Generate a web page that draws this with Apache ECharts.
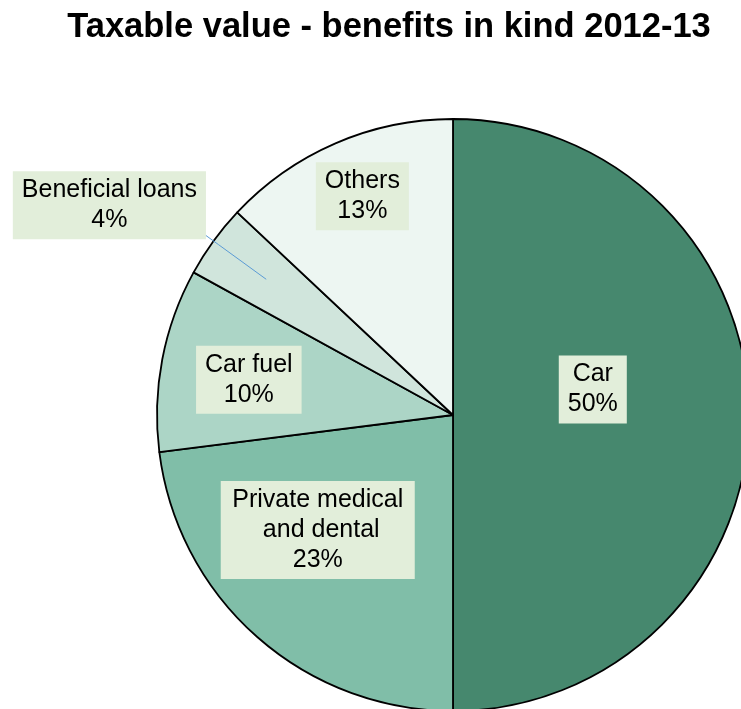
<!DOCTYPE html>
<html>
<head>
<meta charset="utf-8">
<script src="https://cdn.jsdelivr.net/npm/echarts@6/dist/echarts.min.js"></script>
<style>
  html, body { margin: 0; padding: 0; background: #ffffff; }
  #chart { width: 741px; height: 709px; }
</style>
</head>
<body>
<div id="chart"></div>
<script>
// Benefits in kind, share of taxable value 2012-13 (%)
const categories = ['Car', 'Private medical and dental', 'Car fuel', 'Beneficial loans', 'Others'];
const shares = [50, 23, 10, 4, 13];
const sliceColors = ['#46886E', '#80BEA8', '#ACD5C6', '#D0E5DC', '#EDF6F2'];

// Slice whose label sits outside the pie with a leader line
const CALLOUT = 'Beneficial loans';

// Pie geometry
const PIE_CENTER = [453, 415];
const PIE_RADIUS = 296;

// Label placement in polar terms: fraction of radius, and turn (deg) away from the slice mid-angle
const labelFrac = [0.48, 0.60, 0.70, 1.36, 0.80];
const labelTurn = [10.3, -8.2, 1, 4.6, -0.9];

const total = shares.reduce((a, b) => a + b, 0);
function midAngle(i) {
  let before = 0;
  for (let k = 0; k < i; k++) before += shares[k];
  return 90 - (before + shares[i] / 2) / total * 360;
}
function polar(frac, deg) {
  const rad = deg * Math.PI / 180;
  return [PIE_CENTER[0] + frac * PIE_RADIUS * Math.cos(rad),
          PIE_CENTER[1] - frac * PIE_RADIUS * Math.sin(rad)];
}

const labelText = {
  show: true,
  formatter: '{b}\n{d}%',
  fontFamily: 'Liberation Sans, Arial, sans-serif',
  fontSize: 25,
  lineHeight: 30,
  color: '#000000',
  align: 'center',
  backgroundColor: '#E2EEDA',
  padding: [4, 9]
};

function placeLabel(p) {
  const i = p.dataIndex;
  const mid = midAngle(i);
  const pos = polar(labelFrac[i], mid + labelTurn[i]);
  const out = { x: pos[0], y: pos[1], align: 'center', verticalAlign: 'middle' };
  if (categories[i] === CALLOUT) {
    out.labelLinePoints = [polar(0.78, mid), polar(0.98, mid), polar(1.18, mid)];
  }
  return out;
}

// Filled slices with the inside labels
const sliceData = categories.map((name, i) => {
  const item = { name: name, value: shares[i], itemStyle: { color: sliceColors[i] } };
  if (name === 'Private medical and dental') item.label = { width: 176, overflow: 'break' };
  if (name === CALLOUT) item.label = { show: false };
  return item;
});

// Transparent twin on top carrying the callout label and its leader line
const calloutData = categories.map((name, i) => {
  const item = { name: name, value: shares[i] };
  if (name === CALLOUT) {
    item.label = { show: true, position: 'outside' };
    item.labelLine = { show: true, length: 20, length2: 20, smooth: false,
                       lineStyle: { color: '#5B9BD5', width: 1 } };
  }
  return item;
});

const chart = echarts.init(document.getElementById('chart'), null, { renderer: 'canvas' });
chart.setOption({
  animation: false,
  backgroundColor: '#ffffff',
  title: {
    text: 'Taxable value - benefits in kind 2012-13',
    left: 384,
    textAlign: 'center',
    top: 5,
    textStyle: {
      fontFamily: 'Liberation Sans, Arial, sans-serif',
      fontSize: 34.5,
      fontWeight: 'bold',
      color: '#000000'
    }
  },
  series: [{
    type: 'pie',
    z: 2,
    center: PIE_CENTER,
    radius: PIE_RADIUS,
    startAngle: 90,
    clockwise: true,
    avoidLabelOverlap: false,
    percentPrecision: 0,
    itemStyle: { borderColor: '#000000', borderWidth: 1.8 },
    emphasis: { disabled: true },
    label: Object.assign({ position: 'inside' }, labelText),
    labelLine: { show: false },
    labelLayout: placeLabel,
    data: sliceData
  }, {
    type: 'pie',
    z: 3,
    silent: true,
    center: PIE_CENTER,
    radius: PIE_RADIUS,
    startAngle: 90,
    clockwise: true,
    avoidLabelOverlap: false,
    percentPrecision: 0,
    itemStyle: { color: 'rgba(0,0,0,0)', borderWidth: 0 },
    emphasis: { disabled: true },
    label: Object.assign({}, labelText, { show: false }),
    labelLine: { show: false },
    labelLayout: placeLabel,
    data: calloutData
  }]
});
</script>
</body>
</html>
